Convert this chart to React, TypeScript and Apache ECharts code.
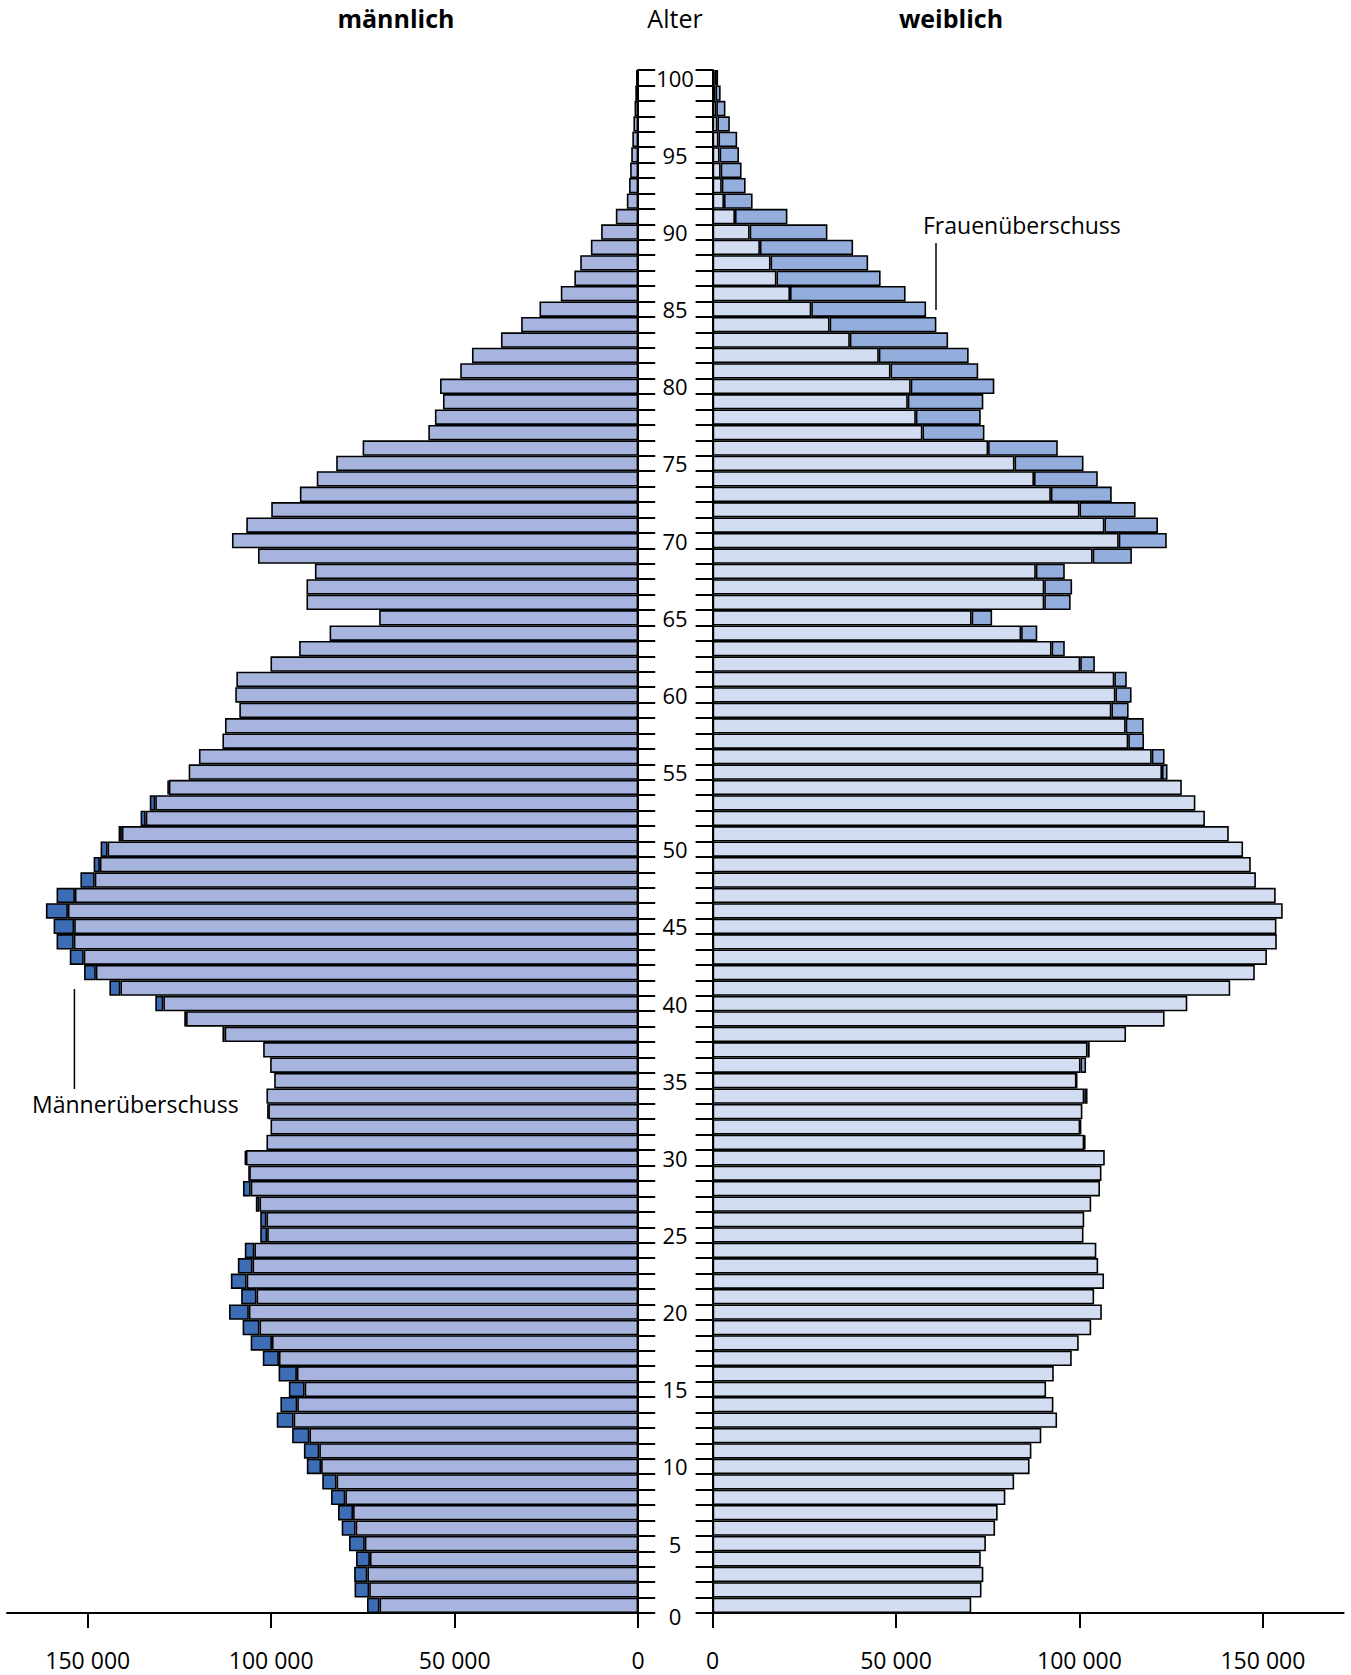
import React, { useEffect, useRef } from "react";
import * as echarts from "echarts";

// Age rows (bottom to top), as drawn in the pyramid
const ROWS: string[] = Array.from({ length: 100 }, (_, i) => String(i + 1));

// Male population per age row (bottom to top)
const MALE: number[] = [
  73900, 77300, 77400, 76900, 78800, 80800, 81800, 83700, 86100, 90300,
  91100, 94300, 98500, 97500, 95200, 98000, 102300, 105600, 107800, 111500,
  108200, 111000, 109100, 107200, 103000, 103000, 104200, 107700, 106100, 107200,
  101300, 100200, 101000, 101300, 99200, 100300, 102200, 113300, 123700, 131600,
  144100, 151000, 154900, 158500, 159300, 161400, 158500, 152000, 148400, 146500,
  141600, 135600, 133100, 128300, 122500, 119700, 113300, 112600, 108700, 109800,
  109500, 100200, 92400, 84100, 70600, 90400, 90400, 88100, 103600, 110700,
  106800, 100000, 92200, 87600, 82300, 75100, 57200, 55400, 53200, 54000,
  48500, 45300, 37400, 31900, 26900, 21100, 17400, 15800, 12900, 10100,
  6100, 3100, 2500, 2200, 1900, 1600, 1300, 1000, 800, 600,
];

// Female population per age row (bottom to top)
const FEMALE: number[] = [
  70500, 73300, 73800, 73100, 74500, 77000, 77700, 79800, 82200, 86400,
  86900, 89600, 93900, 92900, 90900, 93000, 97900, 99800, 103200, 106100,
  104000, 106700, 105100, 104600, 101100, 101300, 103200, 105600, 106000, 106900,
  101600, 100400, 100800, 102200, 99300, 101800, 102800, 112700, 123200, 129400,
  141100, 147800, 151100, 153800, 153700, 155400, 153500, 148100, 146700, 144600,
  140700, 134200, 131600, 127900, 124000, 123200, 117600, 117500, 113400, 114200,
  112900, 104200, 96000, 88500, 76200, 97600, 98000, 96000, 114300, 123800,
  121400, 115300, 108800, 105000, 101100, 94100, 74100, 73100, 73800, 76800,
  72400, 69800, 64200, 61000, 58200, 52600, 45800, 42400, 38300, 31300,
  20400, 10900, 9000, 7900, 7200, 6700, 4700, 3500, 2200, 1500,
];

// Tick values of the population axes
const POP_TICKS: number[] = [0, 50000, 100000, 150000];

const FONT = '"Open Sans", "Noto Sans", sans-serif';

const common = MALE.map((m, i) => Math.min(m, FEMALE[i]));
const maleExcess = MALE.map((m, i) => (m > FEMALE[i] ? m - FEMALE[i] : null));
const femaleExcess = FEMALE.map((f, i) => (f > MALE[i] ? f - MALE[i] : null));

const fmt = (v: number) => String(v).replace(/\B(?=(\d{3})+(?!\d))/g, " ");

const C_MALE = "#a7b4de";
const C_MALE_X = "#3d6db5";
const C_FEM = "#d3ddf1";
const C_FEM_X = "#93aedd";

const popAxis = (grid: number, inverse: boolean) => ({
  gridIndex: grid,
  type: "value",
  inverse,
  min: 0,
  max: 172000,
  interval: 50000,
  axisLine: { show: true, onZero: false, lineStyle: { color: "#000", width: 2 } },
  axisTick: { show: true, length: 15, customValues: POP_TICKS, lineStyle: { color: "#000", width: 2 } },
  axisLabel: {
    customValues: POP_TICKS,
    formatter: (v: number) => fmt(v),
    margin: 35,
    fontSize: 23,
    color: "#000",
    fontFamily: FONT,
  },
  splitLine: { show: false },
});

const ageAxis = (grid: number, pos: string) => ({
  gridIndex: grid,
  type: "category",
  data: ROWS,
  position: pos,
  axisLine: { show: true, onZero: false, lineStyle: { color: "#000", width: 2 } },
  axisTick: { show: true, length: 17, interval: 0, lineStyle: { color: "#000", width: 2 } },
  axisLabel: { show: false },
  splitLine: { show: false },
});

const barStyle = (color: string) => ({
  color,
  borderColor: "#000",
  borderWidth: 1.6,
});

const option = {
  animation: false,
  backgroundColor: "#fff",
  textStyle: { fontFamily: FONT },
  grid: [
    { left: 7, top: 70, width: 631.2, height: 1543 },
    { left: 712.6, top: 70, width: 631, height: 1543 },
    { left: 600, top: 77.7, width: 55, height: 1543 },
  ],
  xAxis: [
    popAxis(0, true),
    popAxis(1, false),
    { gridIndex: 2, type: "value", show: false, min: 0, max: 1 },
  ],
  yAxis: [
    ageAxis(0, "right"),
    ageAxis(1, "left"),
    {
      gridIndex: 2,
      type: "value",
      min: 0,
      max: 100,
      interval: 5,
      position: "right",
      axisLine: { show: false },
      axisTick: { show: false },
      splitLine: { show: false },
      axisLabel: {
        margin: 20,
        align: "center",
        fontSize: 22,
        color: "#000",
        fontFamily: FONT,
        formatter: (v: number) => (v === 0 ? "{z|0}" : String(v)),
        rich: { z: { fontSize: 22, color: "#000", fontFamily: FONT, padding: [0, 0, 10, 0] } },
      },
    },
  ],
  series: [
    {
      name: "männlich",
      type: "bar",
      xAxisIndex: 0,
      yAxisIndex: 0,
      stack: "m",
      data: common,
      barCategoryGap: "0%",
      itemStyle: barStyle(C_MALE),
      silent: true,
    },
    {
      name: "Männerüberschuss",
      type: "bar",
      xAxisIndex: 0,
      yAxisIndex: 0,
      stack: "m",
      data: maleExcess,
      barCategoryGap: "0%",
      itemStyle: barStyle(C_MALE_X),
      silent: true,
    },
    {
      name: "weiblich",
      type: "bar",
      xAxisIndex: 1,
      yAxisIndex: 1,
      stack: "f",
      data: common,
      barCategoryGap: "0%",
      itemStyle: barStyle(C_FEM),
      silent: true,
    },
    {
      name: "Frauenüberschuss",
      type: "bar",
      xAxisIndex: 1,
      yAxisIndex: 1,
      stack: "f",
      data: femaleExcess,
      barCategoryGap: "0%",
      itemStyle: barStyle(C_FEM_X),
      silent: true,
    },
  ],
  graphic: [
    {
      type: "text",
      x: 396,
      y: 18,
      style: { text: "männlich", fontSize: 25, fontWeight: "bold", fontFamily: FONT, fill: "#000", align: "center", verticalAlign: "middle" },
    },
    {
      type: "text",
      x: 675,
      y: 18,
      style: { text: "Alter", fontSize: 25, fontFamily: FONT, fill: "#000", align: "center", verticalAlign: "middle" },
    },
    {
      type: "text",
      x: 951,
      y: 18,
      style: { text: "weiblich", fontSize: 25, fontWeight: "bold", fontFamily: FONT, fill: "#000", align: "center", verticalAlign: "middle" },
    },
    {
      type: "text",
      x: 923,
      y: 225,
      style: { text: "Frauenüberschuss", fontSize: 23, fontFamily: FONT, fill: "#000", align: "left", verticalAlign: "middle" },
    },
    {
      type: "line",
      shape: { x1: 936, y1: 243, x2: 936, y2: 310 },
      style: { stroke: "#000", lineWidth: 1.5 },
    },
    {
      type: "text",
      x: 32,
      y: 1104,
      style: { text: "Männerüberschuss", fontSize: 23, fontFamily: FONT, fill: "#000", align: "left", verticalAlign: "middle" },
    },
    {
      type: "line",
      shape: { x1: 74.4, y1: 989, x2: 74.4, y2: 1089 },
      style: { stroke: "#000", lineWidth: 1.5 },
    },
  ],
};

export default function App() {
  const ref = useRef<HTMLDivElement>(null);
  useEffect(() => {
    if (!ref.current) return;
    const chart = echarts.init(ref.current, null, { renderer: "svg" });
    chart.setOption(option as any);
    return () => chart.dispose();
  }, []);
  return (
    <div
      ref={ref}
      style={{ position: "absolute", left: 0, top: 0, width: 1351, height: 1675, background: "#fff" }}
    />
  );
}
